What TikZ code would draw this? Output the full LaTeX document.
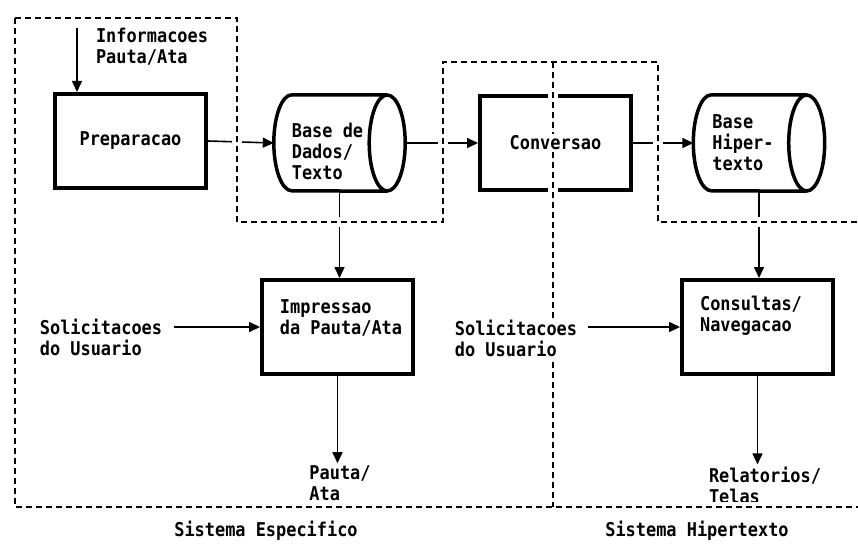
\documentclass[tikz,border=0pt]{standalone}
\usepackage{fontspec}
\newfontfamily\dotfont{DejaVu Sans Mono}[FakeStretch=0.89]
\newcommand{\diagfont}{\dotfont\bfseries\fontsize{19}{21}\selectfont}
\usepackage{tikz}
\usetikzlibrary{shapes.geometric, arrows.meta, positioning, calc}
\tikzstyle{procbox} = [
  rectangle, draw, line width=4pt,
  minimum width=151pt, minimum height=94pt, inner sep=0pt,
  font=\diagfont
]
\tikzstyle{dbframe} = [
  rectangle, minimum width=131pt, minimum height=96pt, inner sep=0pt
]
\tikzstyle{dbline} = [draw, line width=3.5pt, line join=round]
\tikzstyle{lbl} = [font=\diagfont, align=left, inner sep=2pt]
\tikzstyle{arrow} = [-{Triangle[length=11pt, width=10pt]}, line width=1.6pt]
\tikzstyle{boundary} = [line width=1.8pt, dash pattern=on 6pt off 4pt]
\tikzstyle{gap} = [white, line width=10pt]

\newcommand{\drumoutline}[1]{%
  \draw[dbline] ([xshift=18pt]#1.north west) -- ([xshift=-18pt]#1.north east)
    ([xshift=-18pt]#1.east) ellipse [x radius=18, y radius=48]
    ([xshift=18pt]#1.north west) arc [start angle=-90, end angle=-270, x radius=18, y radius=48]
    -- ([xshift=-18pt]#1.south east);}

\begin{document}
\begin{tikzpicture}[x=1pt, y=-1pt]
  \useasboundingbox (0,0) rectangle (858,545);

  % Processes and stores
  \node[procbox] (prep) at (130.5, 141) {Preparacao};
  \node[dbframe] (dados) at (339.5, 143) {};
  \node[procbox] (conv) at (555.5, 143) {};
  \node[dbframe] (hiper) at (759, 143) {};
  \node[procbox] (impr) at (337.5, 327) {};
  \node[procbox] (cons) at (757.5, 327) {};
  \drumoutline{dados}
  \drumoutline{hiper}

  % Texts
  \node[lbl] (dadostxt) at ([xshift=-12pt, yshift=-8pt]dados.center) {Base de\\Dados/\\Texto};
  \node[lbl] (hipertxt) at ([xshift=-16pt]hiper.center) {Base\\Hiper-\\texto};
  \node[lbl] (imprtxt) at (341, 318) {Impressao\\da Pauta/Ata};
  \node[lbl] (constxt) at (751, 316) {Consultas/\\Navegacao};
  \node[lbl] (info) at (152, 47) {Informacoes\\Pauta/Ata};
  \node[lbl] (sol1) at (101, 337) {Solicitacoes\\do Usuario};
  \node[lbl] (pauta) at (340, 483) {Pauta/\\Ata};
  \node[lbl] (rel) at (765, 485) {Relatorios/\\Telas};
  \coordinate (infotop) at (77, 28);

  % Flows
  \draw[arrow] (infotop) -- (infotop |- prep.north);
  \draw[arrow] (prep.east) -- (dados.west);
  \draw[arrow] (dados.east) -- (conv.west);
  \draw[arrow] (conv.east) -- (hiper.west);
  \draw[arrow] (dados.south) -- (dados.south |- impr.north);
  \draw[arrow] (hiper.south) -- (hiper.south |- cons.north);
  \draw[arrow] ($(sol1.east |- impr.west)+(10,0)$) -- (impr.west);
  \draw[arrow] (impr.south) -- (impr.south |- pauta.north);
  \draw[arrow] (cons.south) -- (cons.south |- rel.north);

  % System boundaries
  \foreach \sty in {gap, boundary}
    \draw[\sty] (15,18) -- (237,18) -- (237,222) -- (443,222) -- (443,62)
      -- (658,62) -- (658,222) -- (858,222)
      (553,62) -- (553,507)
      (15,18) -- (15,507) -- (858,507);

  % Texts over the boundaries
  \node[lbl, fill=white] (convtxt) at (conv.center) {Conversao};
  \node[lbl, fill=white] (sol2) at (516, 338) {Solicitacoes\\do Usuario};
  \draw[arrow] ($(sol2.east |- cons.west)+(9,0)$) -- (cons.west);

  \node[lbl] (espec) at (266, 531) {Sistema Especifico};
  \node[lbl] (hipsys) at (697, 531) {Sistema Hipertexto};

\end{tikzpicture}
\end{document}
